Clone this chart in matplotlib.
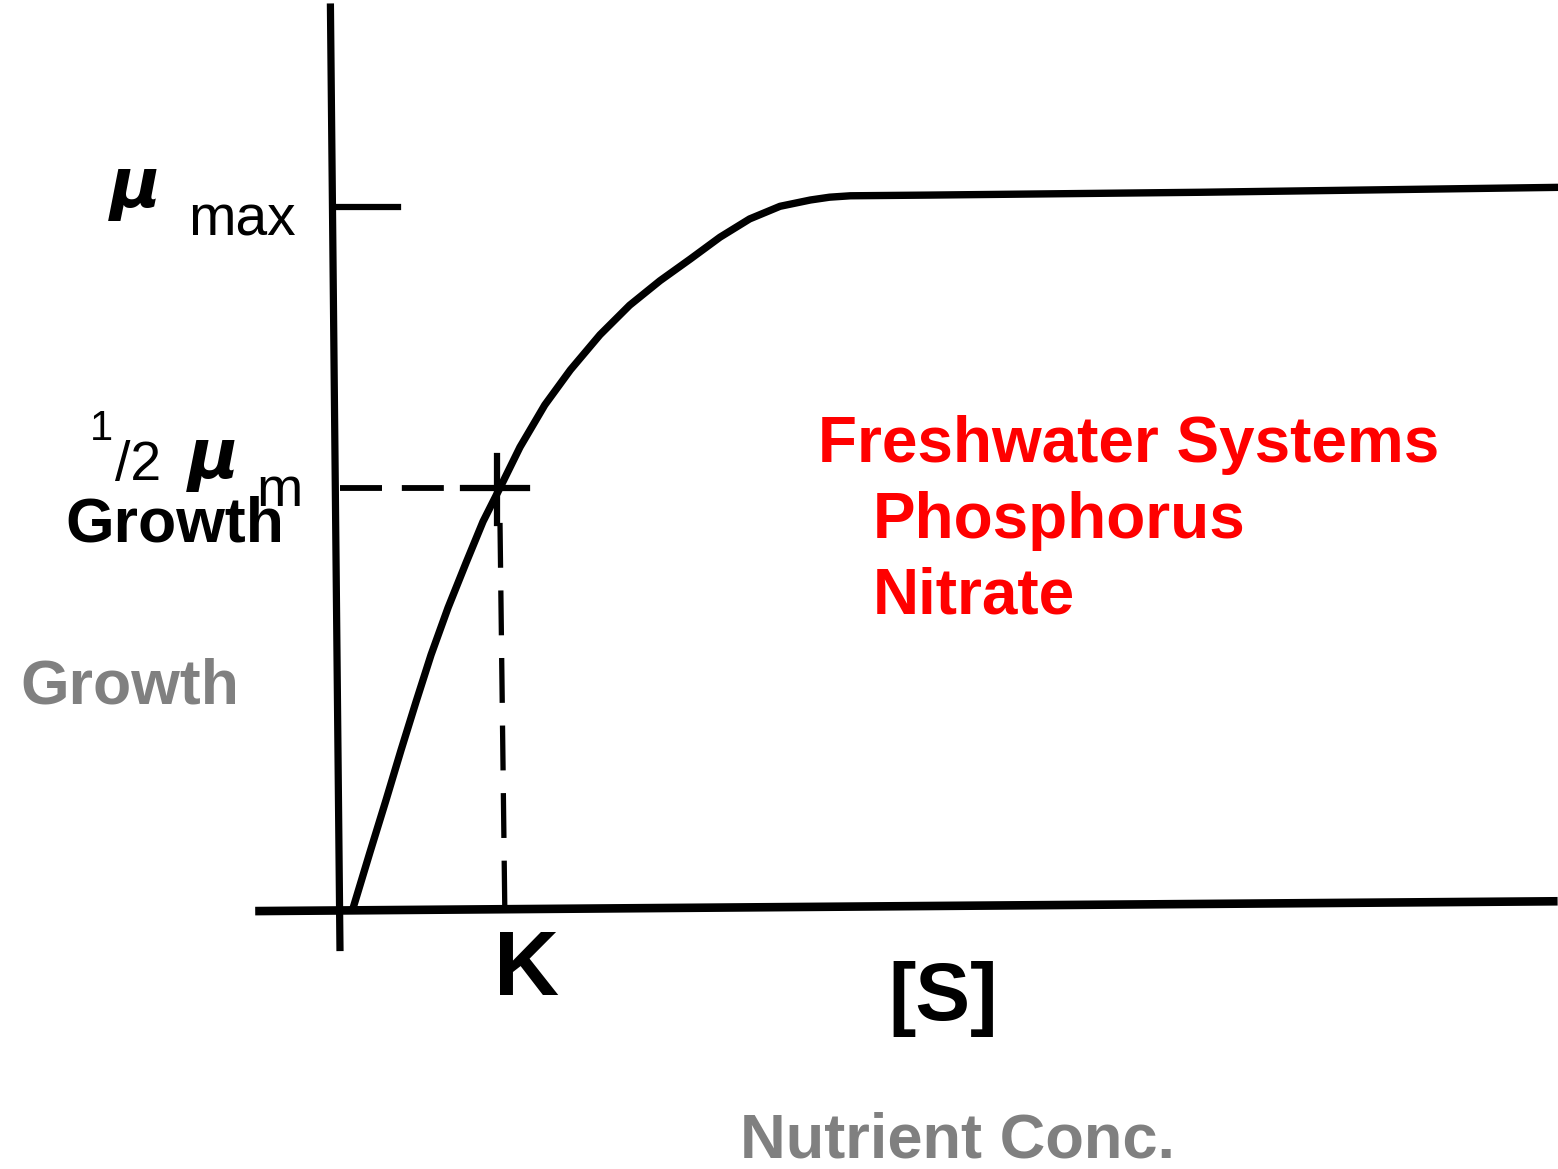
import matplotlib
matplotlib.use("Agg")
import matplotlib.pyplot as plt

W, H = 1558, 1169

# Monod growth curve (S in units of K, growth in units of mu_max)
conc = [0.08, 0.1875, 0.2875, 0.381, 0.475, 0.569, 0.675, 0.7875, 0.894, 1.00,
        1.125, 1.28, 1.44, 1.625, 1.81, 2.00, 2.19, 2.375, 2.56, 2.75,
        2.94, 3.06, 3.19, 3.69, 5.38, 7.61]
growth = [0.00, 0.081, 0.155, 0.226, 0.295, 0.362, 0.429, 0.493, 0.552, 0.60,
          0.658, 0.718, 0.768, 0.818, 0.860, 0.895, 0.926, 0.957, 0.983, 1.001,
          1.010, 1.014, 1.016, 1.017, 1.021, 1.028]

# hand-drawn axes and guide lines
y_axis_s = [-0.06, 0.0]
y_axis_mu = [1.29, -0.06]
x_axis_s = [-0.53, 7.61]
x_axis_mu = [-0.003, 0.011]
mu_max = 1.0
half_mu = 0.60
k_conc = 1.0


def at(px, py):
    return px / W, 1 - py / H


fig = plt.figure(figsize=(W / 100, H / 100), dpi=100)
ax = fig.add_axes([0, 0, 1, 1])
ax.set_xlim(-2.125, 7.6125)
ax.set_ylim(-0.3704, 1.2949)
ax.axis("off")

ax.plot(y_axis_s, y_axis_mu, color="black", lw=5.2, solid_capstyle="butt")
ax.plot(x_axis_s, x_axis_mu, color="black", lw=6.2, solid_capstyle="butt")
ax.plot(conc, growth, color="black", lw=5.3, solid_capstyle="round",
        solid_joinstyle="round")

# mu_max tick
ax.plot([-0.04, 0.36], [mu_max, mu_max], color="black", lw=4.5)

# half saturation guides
hl, = ax.plot([0.0, 0.75], [half_mu, half_mu], color="black", lw=4.2)
hl.set_dashes((7.2, 3.4))
ax.plot([0.77, 1.17], [half_mu, half_mu], color="black", lw=4.5)
ax.plot([k_conc - 0.02, k_conc - 0.02], [0.645, 0.55], color="black", lw=4.5)
vl, = ax.plot([k_conc, k_conc + 0.03], [0.55, 0.0], color="black", lw=3.8)
vl.set_dashes((8.5, 4.3))

sans = ["Liberation Sans", "DejaVu Sans"]

# axis symbol labels
fig.text(*at(110, 207), "μ", fontsize=50, fontweight="bold", fontstyle="italic",
         family=["DejaVu Sans"], va="baseline")
fig.text(*at(188, 235), "max", fontsize=41, family=sans, va="baseline")
fig.text(*at(90, 440), "1", fontsize=30, family=sans, va="baseline")
fig.text(*at(115, 480), "/2", fontsize=40, family=sans, va="baseline")
fig.text(*at(188, 478), "μ", fontsize=50, fontweight="bold", fontstyle="italic",
         family=["DejaVu Sans"], va="baseline")
fig.text(*at(256, 506), "m", fontsize=40, family=sans, va="baseline")
fig.text(*at(65, 542), "Growth", fontsize=45, fontweight="bold", family=sans,
         color="black", va="baseline")
fig.text(*at(20, 703), "Growth", fontsize=45, fontweight="bold", family=sans,
         color="#808080", va="baseline")

fig.text(*at(494, 995), "K", fontsize=65, fontweight="bold", family=sans, va="baseline")
fig.text(*at(888, 1020), "[S]", fontsize=59, fontweight="bold", family=sans, va="baseline")
fig.text(*at(740, 1158), "Nutrient Conc.", fontsize=45.5, fontweight="bold",
         family=sans, color="#808080", va="baseline")

# nutrient list
red = "#FF0000"
fig.text(*at(818, 462), "Freshwater Systems", fontsize=46, fontweight="bold",
         family=sans, color=red, va="baseline")
fig.text(*at(873, 538), "Phosphorus", fontsize=46, fontweight="bold",
         family=sans, color=red, va="baseline")
fig.text(*at(873, 613), "Nitrate", fontsize=46, fontweight="bold",
         family=sans, color=red, va="baseline")

fig.savefig("out.png", dpi=100)
